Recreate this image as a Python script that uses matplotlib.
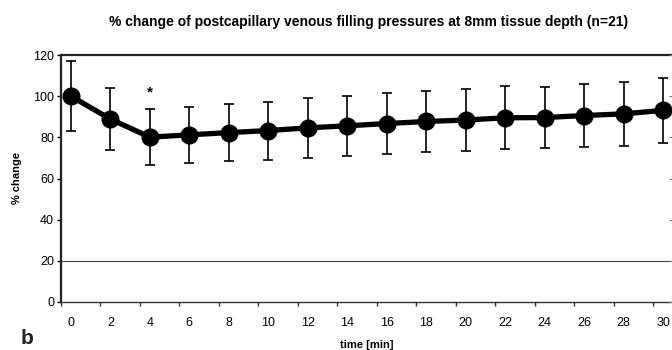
import numpy as np
from matplotlib import pyplot as plt

# Data
minutes = [0, 2, 4, 6, 8, 10, 12, 14, 16, 18, 20, 22, 24, 26, 28, 30]
pct_change = [100, 88.9, 80.1, 81.2, 82.3, 83.3, 84.6, 85.6, 86.7, 87.7,
              88.4, 89.5, 89.6, 90.6, 91.4, 93.1]
sd = [17.0, 15.0, 13.7, 13.7, 13.9, 14.1, 14.4, 14.6, 14.8, 14.9,
      15.0, 15.4, 15.0, 15.5, 15.6, 15.9]
yticks = [0, 20, 40, 60, 80, 100, 120]
sig_minute = 4
sig_height = 102

TITLE = "% change of postcapillary venous filling pressures at 8mm tissue depth (n=21)"

plt.rcParams['font.family'] = ['Liberation Sans', 'DejaVu Sans']

fig = plt.figure(figsize=(6.72, 3.5), dpi=100)
ax = fig.add_axes([61/672, 48/350, 612/672, 247/350])

ax.errorbar(minutes, pct_change, yerr=sd, color='black', lw=3.8,
            marker='o', markersize=12, elinewidth=1.2, capsize=3.5,
            capthick=1.2, zorder=3)
ax.text(sig_minute, sig_height, "*", ha='center', va='center',
        fontsize=11, fontweight='bold')

ax.axhline(20, color='#444444', lw=0.8, zorder=1)

ax.set_xlim(-0.5, 30.5)
ax.set_ylim(0, 120)

# category-style x axis: tick marks at boundaries, labels centred
ax.set_xticks(np.arange(-0.5, 31, 2))
ax.set_xticklabels([])
ax.set_xticks(minutes, minor=True)
ax.set_xticklabels([str(m) for m in minutes], minor=True, fontsize=9)
ax.tick_params(axis='x', which='major', length=3, width=1, color='#333333')
ax.tick_params(axis='x', which='minor', length=0, pad=11)

ax.set_yticks(yticks)
ax.set_yticklabels([str(v) for v in yticks], fontsize=9)
ax.tick_params(axis='y', length=3, width=1, direction='out', pad=2)

# faint inward ticks on the (cropped) right edge
ax2 = ax.twinx()
ax2.set_ylim(0, 120)
ax2.set_yticks(yticks)
ax2.set_yticklabels([])
ax2.tick_params(axis='y', direction='in', length=3, width=0.8, color='#777777')
for side in ax2.spines:
    ax2.spines[side].set_visible(False)

for side in ['left', 'top']:
    ax.spines[side].set_linewidth(1.6)
    ax.spines[side].set_color('#222222')
ax.spines['bottom'].set_linewidth(1.0)
ax.spines['bottom'].set_color('#333333')
ax.spines['right'].set_visible(False)

ax.set_xlabel("time [min]", fontsize=8, fontweight='bold', labelpad=8)
ax.set_ylabel("% change", fontsize=8, fontweight='bold', labelpad=8)

fig.text(369/672, 1 - 22/350, TITLE, ha='center', va='center',
         fontsize=10, fontweight='bold')
fig.text(27/672, 1 - 339/350, "b", ha='center', va='center',
         fontsize=15, fontweight='bold', color='#222222')

plt.savefig("out.png", dpi=100)
